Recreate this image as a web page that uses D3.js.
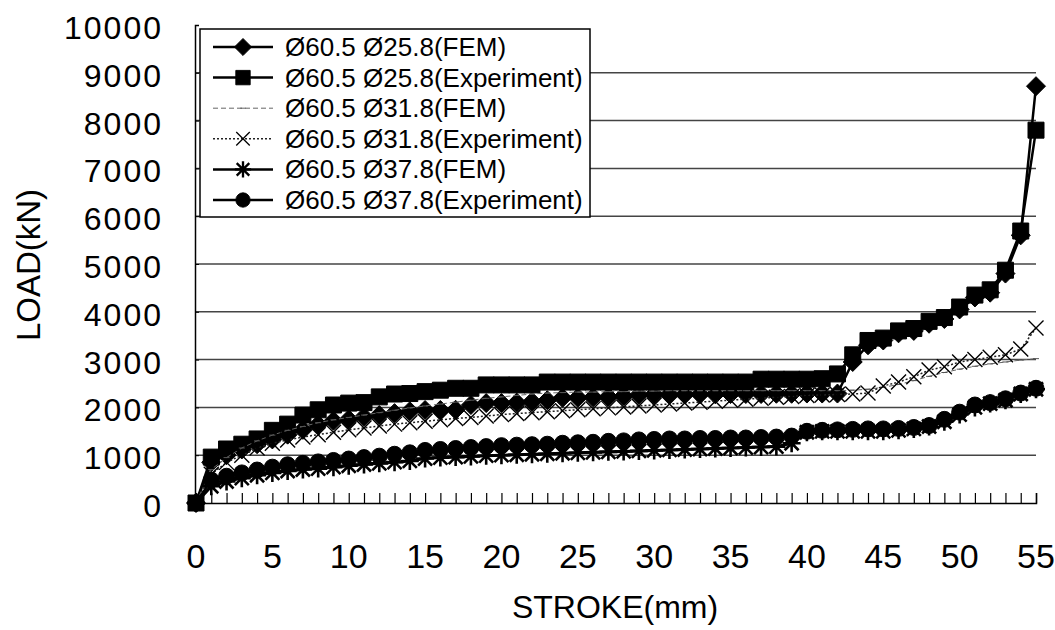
<!DOCTYPE html>
<html><head><meta charset="utf-8">
<script src="https://cdn.jsdelivr.net/npm/d3@7"></script>
<style>
html,body{margin:0;padding:0;background:#fff;}
svg{display:block;font-family:"Liberation Sans",Arial,sans-serif;}
</style></head>
<body>
<svg id="chart" width="1055" height="630"></svg>
<script>
// ---- data ----
const stroke = [0,1,2,3,4,5,6,7,8,9,10,11,12,13,14,15,16,17,18,19,20,21,22,23,24,25,26,27,28,29,30,31,32,33,34,35,36,37,38,39,40,41,42,43,44,45,46,47,48,49,50,51,52,53,54,55];
const xTicks = [0,5,10,15,20,25,30,35,40,45,50,55];
const yTicks = [0,1000,2000,3000,4000,5000,6000,7000,8000,9000,10000];

const fem258 = [0,850,1000,1120,1230,1330,1430,1530,1640,1720,1750,1800,1840,1880,1920,1945,1945,1950,2050,2090,2090,2100,2120,2150,2200,2200,2210,2220,2240,2260,2270,2270,2270,2275,2275,2280,2280,2280,2285,2285,2290,2290,2290,2950,3300,3400,3550,3600,3750,3850,4050,4300,4400,4800,5600,8720];
const exp258 = [0,960,1130,1230,1340,1520,1650,1840,1950,2050,2090,2100,2220,2280,2290,2330,2360,2400,2400,2470,2470,2470,2470,2530,2530,2530,2530,2530,2530,2530,2530,2530,2530,2530,2530,2530,2530,2590,2590,2590,2590,2600,2700,3100,3400,3450,3600,3650,3800,3880,4100,4350,4460,4870,5690,7800];
const fem318 = [0,700,950,1150,1300,1420,1520,1600,1680,1740,1790,1840,1890,1940,1990,2030,2070,2110,2150,2190,2220,2250,2280,2300,2310,2320,2320,2330,2330,2340,2340,2350,2350,2350,2350,2350,2350,2350,2350,2350,2350,2350,2350,2360,2380,2420,2480,2560,2650,2730,2800,2860,2910,2950,2990,3020];
const exp318 = [0,600,850,1000,1150,1250,1320,1380,1430,1480,1530,1570,1610,1650,1680,1710,1740,1770,1790,1820,1850,1870,1890,1910,1930,1950,1970,1990,2010,2030,2050,2070,2090,2110,2130,2150,2170,2190,2210,2230,2250,2260,2270,2280,2300,2450,2530,2640,2780,2850,2950,3000,3050,3100,3220,3660];
const fem378 = [0,350,450,520,580,630,670,700,720,750,780,805,830,855,880,930,950,960,975,990,1000,1010,1020,1030,1040,1050,1060,1070,1080,1090,1100,1110,1120,1130,1140,1150,1160,1170,1180,1250,1480,1500,1500,1500,1500,1500,1520,1550,1600,1700,1850,2000,2080,2150,2280,2380];
const exp378 = [0,480,560,630,690,750,800,830,860,890,920,950,980,1020,1050,1100,1120,1140,1160,1180,1200,1210,1220,1230,1250,1260,1270,1290,1300,1320,1330,1340,1340,1350,1350,1360,1360,1370,1380,1400,1500,1520,1530,1540,1550,1550,1560,1580,1620,1750,1900,2050,2100,2180,2300,2400];

const seriesNames = ["Ø60.5 Ø25.8(FEM)","Ø60.5 Ø25.8(Experiment)","Ø60.5 Ø31.8(FEM)","Ø60.5 Ø31.8(Experiment)","Ø60.5 Ø37.8(FEM)","Ø60.5 Ø37.8(Experiment)"];
const seriesValues = [fem258, exp258, fem318, exp318, fem378, exp378];
const xTitle = "STROKE(mm)";
const yTitle = "LOAD(kN)";

// ---- styles ----
const styles = [
  {marker:"diamond", stroke:"#000", width:2.5, dash:null},
  {marker:"square", stroke:"#000", width:2.5, dash:null},
  {marker:"dash", stroke:"#666", width:1, dash:"5,3"},
  {marker:"x", stroke:"#222", width:1.5, dash:"2,2"},
  {marker:"star", stroke:"#000", width:3, dash:null},
  {marker:"circle", stroke:"#000", width:2.5, dash:null}
];

function markerPath(type){
  switch(type){
    case "diamond": return "M0,-9.5L9.5,0L0,9.5L-9.5,0Z";
    case "square": return "M-8,-8H8V8H-8Z";
    case "circle": return d3.symbol().type(d3.symbolCircle).size(200)();
    case "x": return "M-7.5,-7.5L7.5,7.5M-7.5,7.5L7.5,-7.5";
    case "star": return "M-7,-7L7,7M-7,7L7,-7M0,-9L0,9M-9,0L9,0";
    case "dash": return "M-3,0H3";
  }
}
function isFilled(type){ return type==="diamond"||type==="square"||type==="circle"; }
function markerWidth(type){ return type==="x"?1.4:(type==="star"?2.6:1); }

const svg = d3.select("#chart");
const x = d3.scaleLinear().domain([0,55]).range([196,1036]);
const y = d3.scaleLinear().domain([0,10000]).range([503,25]);

// gridlines
svg.append("g").selectAll("line").data(yTicks.filter(t=>t>0 && t<10000)).join("line")
  .attr("x1",x(0)).attr("x2",x(55)).attr("y1",d=>y(d)).attr("y2",d=>y(d))
  .attr("stroke","#444").attr("stroke-width",1.5);

// y axis
const yAxis = svg.append("g").attr("transform",`translate(${x(0)-1},0)`)
  .call(d3.axisRight(y).tickValues(yTicks).tickSize(4).tickFormat(""));
yAxis.select(".domain").attr("stroke","#000").attr("stroke-width",1.5);
yAxis.selectAll(".tick line").attr("stroke","#000");
svg.append("g").selectAll("text").data(yTicks).join("text")
  .attr("x",163).attr("y",d=>y(d)+14).attr("text-anchor","end")
  .attr("font-size",32).attr("letter-spacing",2).attr("fill","#000")
  .text(d=>d);

// x axis
const xAxis = svg.append("g").attr("transform",`translate(0,${y(0)})`)
  .call(d3.axisTop(x).tickValues(stroke).tickSize(10).tickFormat(""));
xAxis.select(".domain").attr("stroke","#000").attr("stroke-width",1.5);
xAxis.selectAll(".tick line").attr("stroke","#000").attr("stroke-width",1.2);
svg.append("g").selectAll("text").data(xTicks).join("text")
  .attr("x",d=>x(d)).attr("y",568).attr("text-anchor","middle")
  .attr("font-size",34).attr("fill","#000").text(d=>d);

// titles
svg.append("text").attr("x",615).attr("y",618).attr("text-anchor","middle")
  .attr("font-size",32).attr("fill","#000").text(xTitle);
svg.append("text").attr("transform","translate(40,265) rotate(-90)")
  .attr("text-anchor","middle").attr("font-size",33).attr("fill","#000").text(yTitle);

// series
const line = d3.line().x((d,i)=>x(stroke[i])).y(d=>y(d));
seriesValues.forEach((vals,si)=>{
  const st = styles[si];
  const g = svg.append("g");
  g.append("path").attr("d",line(vals)).attr("fill","none")
    .attr("stroke",st.stroke).attr("stroke-width",st.width)
    .attr("stroke-dasharray",st.dash);
  g.selectAll("path.m").data(vals).join("path").attr("class","m")
    .attr("transform",(d,i)=>`translate(${x(stroke[i])},${y(d)})`)
    .attr("d",markerPath(st.marker))
    .attr("fill",isFilled(st.marker)?"#000":"none")
    .attr("stroke",st.marker==="dash"?"#555":"#000")
    .attr("stroke-width",markerWidth(st.marker));
});

// legend
const lg = svg.append("g");
lg.append("rect").attr("x",200).attr("y",29).attr("width",390).attr("height",188)
  .attr("fill","#fff").attr("stroke","#000").attr("stroke-width",1.5);
const rowY = d3.scaleLinear().domain([0,5]).range([47,200]);
seriesNames.forEach((name,i)=>{
  const st = styles[i];
  const cy = rowY(i);
  lg.append("line").attr("x1",213).attr("x2",273).attr("y1",cy).attr("y2",cy)
    .attr("stroke",st.stroke).attr("stroke-width",Math.min(st.width,2.5)).attr("stroke-dasharray",st.dash);
  lg.append("path").attr("transform",`translate(243,${cy}) scale(0.9)`).attr("d",markerPath(st.marker))
    .attr("fill",isFilled(st.marker)?"#000":"none")
    .attr("stroke",st.marker==="dash"?"#555":"#000")
    .attr("stroke-width",markerWidth(st.marker));
  lg.append("text").attr("x",285).attr("y",cy+9).attr("font-size",26).attr("fill","#000").text(name);
});
</script>
</body></html>
